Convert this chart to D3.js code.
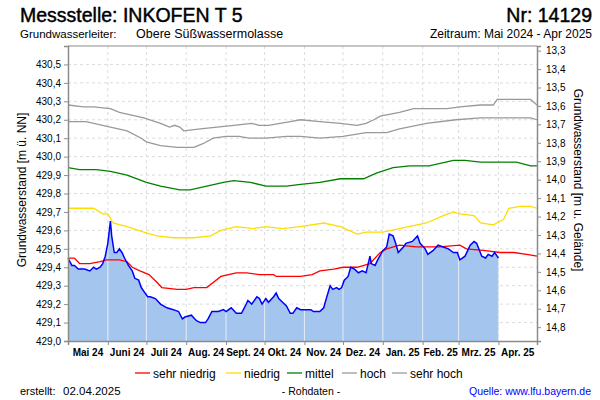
<!DOCTYPE html>
<html><head><meta charset="utf-8">
<script src="https://cdn.jsdelivr.net/npm/d3@7"></script>
<style>
body{margin:0;background:#fff}
svg{font-family:"Liberation Sans",Arial,sans-serif;display:block}
</style>
</head><body><svg id="chart" width="600" height="400"></svg>
<script>
const monthLabels = ["Mai 24","Juni 24","Juli 24","Aug. 24","Sept. 24","Okt. 24","Nov. 24","Dez. 24","Jan. 25","Feb. 25","Mrz. 25","Apr. 25"];
const monthStarts = ["2024-05-01","2024-06-01","2024-07-01","2024-08-01","2024-09-01","2024-10-01","2024-11-01","2024-12-01","2025-01-01","2025-02-01","2025-03-01","2025-04-01","2025-05-01"];
const leftTicks = [429.0,429.1,429.2,429.3,429.4,429.5,429.6,429.7,429.8,429.9,430.0,430.1,430.2,430.3,430.4,430.5];
const rightTicks = [13.3,13.4,13.5,13.6,13.7,13.8,13.9,14.0,14.1,14.2,14.3,14.4,14.5,14.6,14.7,14.8];
const levelDomain = [429.0, 430.6];
const groundLevel = 443.875;

const measured = [["2024-05-01",429.45],["2024-05-04",429.41],["2024-05-06",429.41],["2024-05-09",429.39],["2024-05-14",429.39],["2024-05-18",429.38],["2024-05-21",429.40],["2024-05-23",429.39],["2024-05-26",429.40],["2024-05-28",429.42],["2024-05-30",429.46],["2024-06-01",429.53],["2024-06-03",429.65],["2024-06-04",429.57],["2024-06-06",429.48],["2024-06-08",429.48],["2024-06-10",429.50],["2024-06-12",429.48],["2024-06-14",429.45],["2024-06-17",429.41],["2024-06-20",429.38],["2024-06-22",429.34],["2024-06-25",429.33],["2024-06-27",429.29],["2024-06-30",429.26],["2024-07-02",429.24],["2024-07-04",429.24],["2024-07-08",429.23],["2024-07-12",429.20],["2024-07-17",429.18],["2024-07-22",429.17],["2024-07-26",429.16],["2024-07-29",429.12],["2024-07-31",429.13],["2024-08-05",429.14],["2024-08-09",429.11],["2024-08-12",429.10],["2024-08-16",429.10],["2024-08-18",429.12],["2024-08-21",429.16],["2024-08-26",429.16],["2024-08-30",429.17],["2024-09-01",429.16],["2024-09-05",429.18],["2024-09-09",429.15],["2024-09-13",429.15],["2024-09-16",429.19],["2024-09-18",429.22],["2024-09-21",429.20],["2024-09-25",429.24],["2024-09-27",429.23],["2024-09-29",429.20],["2024-10-02",429.23],["2024-10-04",429.21],["2024-10-08",429.24],["2024-10-10",429.26],["2024-10-12",429.23],["2024-10-15",429.21],["2024-10-18",429.19],["2024-10-21",429.15],["2024-10-23",429.15],["2024-10-26",429.18],["2024-10-29",429.17],["2024-11-06",429.17],["2024-11-08",429.16],["2024-11-13",429.16],["2024-11-16",429.18],["2024-11-18",429.23],["2024-11-21",429.30],["2024-11-23",429.28],["2024-11-26",429.29],["2024-11-28",429.28],["2024-11-30",429.29],["2024-12-02",429.33],["2024-12-05",429.35],["2024-12-07",429.40],["2024-12-10",429.39],["2024-12-13",429.37],["2024-12-16",429.38],["2024-12-19",429.37],["2024-12-22",429.46],["2024-12-23",429.42],["2024-12-26",429.41],["2024-12-28",429.44],["2025-01-01",429.49],["2025-01-04",429.51],["2025-01-06",429.58],["2025-01-09",429.57],["2025-01-11",429.53],["2025-01-13",429.48],["2025-01-17",429.51],["2025-01-19",429.53],["2025-01-24",429.54],["2025-01-28",429.57],["2025-01-30",429.53],["2025-02-03",429.50],["2025-02-05",429.47],["2025-02-09",429.49],["2025-02-13",429.52],["2025-02-17",429.51],["2025-02-21",429.50],["2025-02-25",429.48],["2025-02-28",429.48],["2025-03-02",429.44],["2025-03-06",429.46],["2025-03-10",429.52],["2025-03-13",429.54],["2025-03-15",429.53],["2025-03-19",429.46],["2025-03-22",429.45],["2025-03-24",429.47],["2025-03-27",429.46],["2025-03-29",429.48],["2025-04-01",429.45]];

const sehrNiedrig = [["2024-05-01",429.45],["2024-05-06",429.45],["2024-05-10",429.42],["2024-05-18",429.42],["2024-05-26",429.43],["2024-05-31",429.44],["2024-06-10",429.44],["2024-06-16",429.43],["2024-06-20",429.40],["2024-06-26",429.38],["2024-07-03",429.36],["2024-07-09",429.32],["2024-07-13",429.29],["2024-07-25",429.28],["2024-08-01",429.28],["2024-08-07",429.29],["2024-08-17",429.29],["2024-08-28",429.35],["2024-09-09",429.37],["2024-09-17",429.37],["2024-09-27",429.36],["2024-10-08",429.36],["2024-10-10",429.35],["2024-10-23",429.35],["2024-10-29",429.35],["2024-11-07",429.36],["2024-11-13",429.38],["2024-11-24",429.39],["2024-12-01",429.40],["2024-12-12",429.40],["2024-12-22",429.42],["2024-12-30",429.48],["2025-01-04",429.50],["2025-01-14",429.52],["2025-01-27",429.51],["2025-02-14",429.51],["2025-03-02",429.52],["2025-03-07",429.50],["2025-03-22",429.49],["2025-04-02",429.48],["2025-04-13",429.48],["2025-04-23",429.47],["2025-05-01",429.46]];

const niedrig = [["2024-05-01",429.72],["2024-05-13",429.72],["2024-05-21",429.72],["2024-05-28",429.69],["2024-06-01",429.69],["2024-06-05",429.64],["2024-06-16",429.62],["2024-06-29",429.59],["2024-07-09",429.57],["2024-07-22",429.56],["2024-08-07",429.56],["2024-08-20",429.57],["2024-08-28",429.60],["2024-09-09",429.62],["2024-09-22",429.61],["2024-10-02",429.62],["2024-10-15",429.61],["2024-10-29",429.62],["2024-11-16",429.64],["2024-11-29",429.62],["2024-12-12",429.58],["2024-12-19",429.59],["2025-01-01",429.59],["2025-01-14",429.61],["2025-02-04",429.64],["2025-02-17",429.68],["2025-02-25",429.70],["2025-03-02",429.69],["2025-03-13",429.68],["2025-03-18",429.64],["2025-03-28",429.63],["2025-04-05",429.66],["2025-04-09",429.72],["2025-04-18",429.73],["2025-04-26",429.73],["2025-05-01",429.72]];

const mittel = [["2024-05-01",429.94],["2024-05-10",429.93],["2024-05-23",429.93],["2024-06-03",429.92],["2024-06-16",429.90],["2024-07-01",429.86],["2024-07-12",429.84],["2024-07-27",429.82],["2024-08-04",429.82],["2024-08-17",429.84],["2024-08-30",429.86],["2024-09-07",429.87],["2024-09-20",429.86],["2024-10-02",429.84],["2024-10-18",429.84],["2024-10-29",429.85],["2024-11-13",429.86],["2024-11-29",429.88],["2024-12-17",429.88],["2024-12-27",429.91],["2025-01-09",429.94],["2025-01-22",429.95],["2025-02-06",429.95],["2025-02-25",429.98],["2025-03-06",429.98],["2025-03-18",429.97],["2025-04-15",429.97],["2025-04-26",429.95],["2025-05-01",429.95]];

const hoch = [["2024-05-01",430.19],["2024-05-15",430.19],["2024-05-21",430.18],["2024-06-03",430.16],["2024-06-16",430.14],["2024-06-27",430.10],["2024-07-01",430.08],["2024-07-12",430.06],["2024-07-25",430.05],["2024-08-07",430.05],["2024-08-14",430.07],["2024-08-22",430.10],["2024-09-01",430.11],["2024-09-11",430.11],["2024-09-19",430.10],["2024-10-02",430.10],["2024-10-18",430.11],["2024-10-29",430.11],["2024-11-13",430.10],["2024-12-01",430.11],["2024-12-19",430.13],["2025-01-04",430.13],["2025-01-14",430.15],["2025-02-04",430.18],["2025-02-27",430.20],["2025-03-18",430.21],["2025-04-26",430.21],["2025-05-01",430.20]];

const sehrHoch = [["2024-05-01",430.28],["2024-05-13",430.27],["2024-05-21",430.27],["2024-06-03",430.26],["2024-06-10",430.24],["2024-06-29",430.21],["2024-07-12",430.18],["2024-07-19",430.16],["2024-07-23",430.17],["2024-07-27",430.16],["2024-07-30",430.14],["2024-08-12",430.15],["2024-08-25",430.16],["2024-09-07",430.17],["2024-09-21",430.18],["2024-09-27",430.17],["2024-10-04",430.17],["2024-10-13",430.18],["2024-10-21",430.19],["2024-10-29",430.20],["2024-11-13",430.19],["2024-11-29",430.18],["2024-12-12",430.17],["2024-12-19",430.18],["2024-12-25",430.20],["2024-12-30",430.22],["2025-01-14",430.24],["2025-01-25",430.26],["2025-02-20",430.26],["2025-03-02",430.27],["2025-03-18",430.28],["2025-03-28",430.28],["2025-03-31",430.31],["2025-04-02",430.31],["2025-04-26",430.31],["2025-05-01",430.28]];

const seriesNames = ["sehr niedrig","niedrig","mittel","hoch","sehr hoch"];
const seriesColors = ["#ff0000","#ffdd00","#008000","#999999","#999999"];

// ---- drawing ----
const parse = d3.timeParse("%Y-%m-%d");
const svg = d3.select("#chart");
const plot = {left: 68, right: 537, top: 46, bottom: 341};

const x = d3.scaleTime()
  .domain([parse(monthStarts[0]), parse(monthStarts[monthStarts.length-1])])
  .range([plot.left, plot.right]);
const y = d3.scaleLinear().domain(levelDomain).range([plot.bottom, plot.top]);
const yR = d3.scaleLinear()
  .domain([groundLevel - levelDomain[1], groundLevel - levelDomain[0]])
  .range([plot.top, plot.bottom]);

const fmt = d => d.toFixed(1).replace(".", ",");
const months = monthStarts.map(parse);

// grid
const grid = svg.append("g");
grid.selectAll("line.h").data(leftTicks.filter(v => v > levelDomain[0])).join("line")
  .attr("x1", plot.left).attr("x2", plot.right)
  .attr("y1", d => y(d)).attr("y2", d => y(d))
  .attr("stroke", "#dcdcdc").attr("stroke-dasharray", "3,3");
grid.selectAll("line.v").data(months.slice(1, -1)).join("line")
  .attr("x1", d => x(d)).attr("x2", d => x(d))
  .attr("y1", plot.top).attr("y2", plot.bottom)
  .attr("stroke", "#dcdcdc").attr("stroke-dasharray", "3,3");

// measured area
const pts = measured.map(d => [parse(d[0]), d[1]]);
const area = d3.area().x(d => x(d[0])).y0(y(levelDomain[0])).y1(d => y(d[1]));
const line = d3.line().x(d => x(d[0])).y(d => y(d[1]));
svg.append("clipPath").attr("id", "areaClip").append("path").attr("d", area(pts));
svg.append("path").attr("d", area(pts)).attr("fill", "#a4c6ee");
svg.append("g").attr("clip-path", "url(#areaClip)")
  .selectAll("line").data(months.slice(1, -1)).join("line")
  .attr("x1", d => x(d)).attr("x2", d => x(d))
  .attr("y1", plot.top).attr("y2", plot.bottom)
  .attr("stroke", "#e4ecf6").attr("stroke-width", 1);

// percentile lines
const allSeries = [sehrNiedrig, niedrig, mittel, hoch, sehrHoch];
allSeries.forEach((s, i) => {
  svg.append("path")
    .attr("d", line(s.map(d => [parse(d[0]), d[1]])))
    .attr("fill", "none").attr("stroke", seriesColors[i]).attr("stroke-width", 1.3);
});
svg.append("path").attr("d", line(pts))
  .attr("fill", "none").attr("stroke", "#0000ff").attr("stroke-width", 1.5);

// frame
const axisColor = "#8c8c8c";
svg.append("line").attr("x1", plot.left).attr("x2", plot.right).attr("y1", plot.top).attr("y2", plot.top).attr("stroke", axisColor);

// axes
const gL = svg.append("g").attr("transform", `translate(${plot.left},0)`)
  .call(d3.axisLeft(y).tickValues(leftTicks).tickFormat(fmt).tickSize(4).tickPadding(3));
const gR = svg.append("g").attr("transform", `translate(${plot.right},0)`)
  .call(d3.axisRight(yR).tickValues(rightTicks).tickFormat(fmt).tickSize(4).tickPadding(5));
const gB = svg.append("g").attr("transform", `translate(0,${plot.bottom})`)
  .call(d3.axisBottom(x).tickValues(months).tickFormat("").tickSize(4));
[gL, gR, gB].forEach(g => {
  g.select(".domain").attr("stroke", axisColor).attr("stroke-width", 1.5);
  g.selectAll(".tick line").attr("stroke", axisColor);
  g.selectAll("text").attr("font-size", 10).attr("fill", "#000").attr("font-family", "Liberation Sans, Arial, sans-serif");
});

// month labels centered in months
svg.append("g").selectAll("text").data(monthLabels).join("text")
  .attr("x", (d, i) => (x(months[i]) + x(months[i+1])) / 2)
  .attr("y", 356)
  .attr("text-anchor", "middle").attr("font-size", 10).attr("font-weight", "bold")
  .text(d => d);

// axis titles
svg.append("text").attr("transform", "translate(26,190) rotate(-90)")
  .attr("text-anchor", "middle").attr("font-size", 12).text("Grundwasserstand [m ü. NN]");
svg.append("text").attr("transform", "translate(574,180) rotate(90)")
  .attr("text-anchor", "middle").attr("font-size", 12).text("Grundwasserstand [m u. Gelände]");

// titles
svg.append("text").attr("x", 20).attr("y", 22).attr("font-size", 19.5)
  .attr("stroke", "#000").attr("stroke-width", 0.45).text("Messstelle: INKOFEN T 5");
svg.append("text").attr("x", 592).attr("y", 22).attr("text-anchor", "end").attr("font-size", 19.5)
  .attr("stroke", "#000").attr("stroke-width", 0.45).text("Nr: 14129");
svg.append("text").attr("x", 20).attr("y", 38).attr("font-size", 11.5).text("Grundwasserleiter:");
svg.append("text").attr("x", 136).attr("y", 38).attr("font-size", 12.5).text("Obere Süßwassermolasse");
svg.append("text").attr("x", 592).attr("y", 38).attr("text-anchor", "end").attr("font-size", 12).text("Zeitraum: Mai 2024 - Apr 2025");

// legend
const legendX = [135, 226, 287, 342, 392];
const lg = svg.append("g").selectAll("g").data(seriesNames).join("g")
  .attr("transform", (d, i) => `translate(${legendX[i]},373)`);
lg.append("line").attr("x1", 0).attr("x2", 15).attr("stroke", (d, i) => seriesColors[i]).attr("stroke-width", 1.3);
lg.append("text").attr("x", 18).attr("y", 4.5).attr("font-size", 12).text(d => d);

// footer
svg.append("text").attr("x", 20).attr("y", 395).attr("font-size", 11).text("erstellt:");
svg.append("text").attr("x", 63).attr("y", 395).attr("font-size", 11.5).text("02.04.2025");
svg.append("text").attr("x", 311).attr("y", 395).attr("text-anchor", "middle").attr("font-size", 10.5).text("- Rohdaten -");
svg.append("text").attr("x", 591).attr("y", 395).attr("text-anchor", "end").attr("font-size", 10.5).attr("fill", "#0000ff").text("Quelle: www.lfu.bayern.de");
</script>
</body></html>
